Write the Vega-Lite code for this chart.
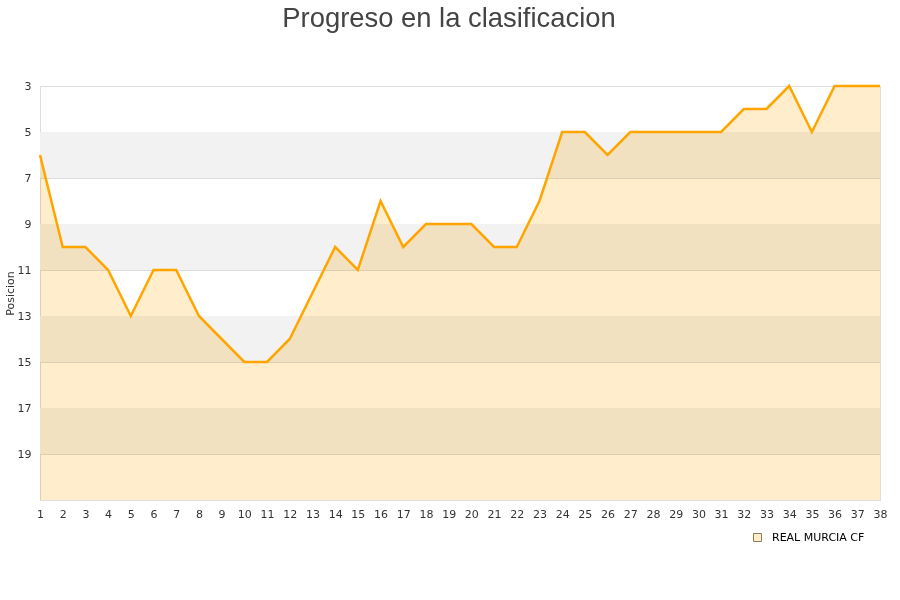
{
  "$schema": "https://vega.github.io/schema/vega-lite/v6.json",
  "width": 840,
  "height": 414,
  "autosize": "none",
  "padding": {"left": 40, "top": 86, "right": 20, "bottom": 100},
  "background": "white",
  "title": {"text": "Progreso en la clasificacion", "font": "Liberation Sans", "fontSize": 27.4, "fontWeight": "normal", "color": "#444444", "anchor": "middle", "offset": 48, "dx": -11},
  "config": {
    "view": {"stroke": "#dddddd", "strokeWidth": 1},
    "axis": {"labelFont": "DejaVu Sans", "labelFontSize": 11, "labelColor": "#333333", "titleFont": "DejaVu Sans", "titleFontSize": 11, "titleFontWeight": "normal", "titleColor": "#333333"}
  },
  "datasets": {
    "bands": [
      {"desde": 5, "hasta": 7},
      {"desde": 9, "hasta": 11},
      {"desde": 13, "hasta": 15},
      {"desde": 17, "hasta": 19}
    ],
    "posiciones": [
      {"jornada": 1, "posicion": 6, "equipo": "REAL MURCIA CF"},
      {"jornada": 2, "posicion": 10, "equipo": "REAL MURCIA CF"},
      {"jornada": 3, "posicion": 10, "equipo": "REAL MURCIA CF"},
      {"jornada": 4, "posicion": 11, "equipo": "REAL MURCIA CF"},
      {"jornada": 5, "posicion": 13, "equipo": "REAL MURCIA CF"},
      {"jornada": 6, "posicion": 11, "equipo": "REAL MURCIA CF"},
      {"jornada": 7, "posicion": 11, "equipo": "REAL MURCIA CF"},
      {"jornada": 8, "posicion": 13, "equipo": "REAL MURCIA CF"},
      {"jornada": 9, "posicion": 14, "equipo": "REAL MURCIA CF"},
      {"jornada": 10, "posicion": 15, "equipo": "REAL MURCIA CF"},
      {"jornada": 11, "posicion": 15, "equipo": "REAL MURCIA CF"},
      {"jornada": 12, "posicion": 14, "equipo": "REAL MURCIA CF"},
      {"jornada": 13, "posicion": 12, "equipo": "REAL MURCIA CF"},
      {"jornada": 14, "posicion": 10, "equipo": "REAL MURCIA CF"},
      {"jornada": 15, "posicion": 11, "equipo": "REAL MURCIA CF"},
      {"jornada": 16, "posicion": 8, "equipo": "REAL MURCIA CF"},
      {"jornada": 17, "posicion": 10, "equipo": "REAL MURCIA CF"},
      {"jornada": 18, "posicion": 9, "equipo": "REAL MURCIA CF"},
      {"jornada": 19, "posicion": 9, "equipo": "REAL MURCIA CF"},
      {"jornada": 20, "posicion": 9, "equipo": "REAL MURCIA CF"},
      {"jornada": 21, "posicion": 10, "equipo": "REAL MURCIA CF"},
      {"jornada": 22, "posicion": 10, "equipo": "REAL MURCIA CF"},
      {"jornada": 23, "posicion": 8, "equipo": "REAL MURCIA CF"},
      {"jornada": 24, "posicion": 5, "equipo": "REAL MURCIA CF"},
      {"jornada": 25, "posicion": 5, "equipo": "REAL MURCIA CF"},
      {"jornada": 26, "posicion": 6, "equipo": "REAL MURCIA CF"},
      {"jornada": 27, "posicion": 5, "equipo": "REAL MURCIA CF"},
      {"jornada": 28, "posicion": 5, "equipo": "REAL MURCIA CF"},
      {"jornada": 29, "posicion": 5, "equipo": "REAL MURCIA CF"},
      {"jornada": 30, "posicion": 5, "equipo": "REAL MURCIA CF"},
      {"jornada": 31, "posicion": 5, "equipo": "REAL MURCIA CF"},
      {"jornada": 32, "posicion": 4, "equipo": "REAL MURCIA CF"},
      {"jornada": 33, "posicion": 4, "equipo": "REAL MURCIA CF"},
      {"jornada": 34, "posicion": 3, "equipo": "REAL MURCIA CF"},
      {"jornada": 35, "posicion": 5, "equipo": "REAL MURCIA CF"},
      {"jornada": 36, "posicion": 3, "equipo": "REAL MURCIA CF"},
      {"jornada": 37, "posicion": 3, "equipo": "REAL MURCIA CF"},
      {"jornada": 38, "posicion": 3, "equipo": "REAL MURCIA CF"}
    ]
  },
  "layer": [
    {
      "data": {"name": "bands"},
      "mark": {"type": "rect", "fill": "#f2f2f2"},
      "encoding": {
        "y": {"field": "desde", "type": "quantitative", "scale": {"domain": [3, 21], "reverse": true, "nice": false, "zero": false},
              "axis": {"values": [3, 5, 7, 9, 11, 13, 15, 17, 19], "title": "Posicion", "grid": true, "gridColor": "#dddddd", "domain": false, "ticks": false, "labelPadding": 9, "titlePadding": 2}},
        "y2": {"field": "hasta"}
      }
    },
    {
      "data": {"name": "posiciones"},
      "mark": {"type": "area", "blend": "multiply", "interpolate": "linear"},
      "encoding": {
        "x": {"field": "jornada", "type": "quantitative", "scale": {"domain": [1, 38], "nice": false, "zero": false},
              "axis": {"values": [1,2,3,4,5,6,7,8,9,10,11,12,13,14,15,16,17,18,19,20,21,22,23,24,25,26,27,28,29,30,31,32,33,34,35,36,37,38], "title": null, "grid": false, "domain": false, "ticks": false, "labelPadding": 8, "labelFlush": false, "labelOverlap": false, "labelBound": false}},
        "y": {"field": "posicion", "type": "quantitative"},
        "y2": {"datum": 21},
        "fill": {"field": "equipo", "type": "nominal", "scale": {"range": ["#FFEDCC"]},
                 "legend": {"title": null, "orient": "none", "legendX": 712, "legendY": 446, "symbolType": "square", "symbolSize": 64, "symbolStrokeColor": "#8c7a5a", "symbolStrokeWidth": 1, "symbolOpacity": 1, "labelOffset": 9, "labelFont": "DejaVu Sans", "labelFontSize": 11, "labelColor": "#000000", "padding": 0}}
      }
    },
    {
      "data": {"name": "posiciones"},
      "mark": {"type": "line", "color": "#FFA500", "strokeWidth": 2.5, "interpolate": "linear"},
      "encoding": {
        "x": {"field": "jornada", "type": "quantitative",
              "axis": {"values": [1,2,3,4,5,6,7,8,9,10,11,12,13,14,15,16,17,18,19,20,21,22,23,24,25,26,27,28,29,30,31,32,33,34,35,36,37,38], "title": null, "grid": false, "domain": false, "ticks": false, "labelPadding": 8, "labelFlush": false, "labelOverlap": false, "labelBound": false}},
        "y": {"field": "posicion", "type": "quantitative"}
      }
    }
  ]
}
